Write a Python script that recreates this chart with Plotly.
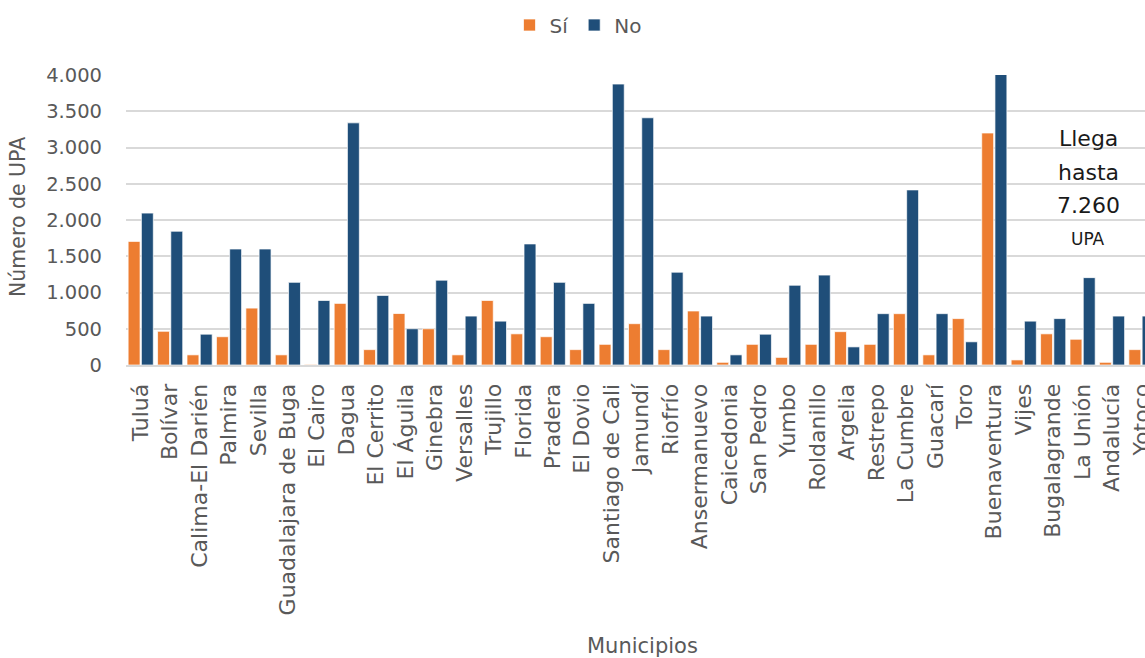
import plotly.graph_objects as go

municipios = [
    "Tuluá", "Bolívar", "Calima-El Darién", "Palmira", "Sevilla",
    "Guadalajara de Buga", "El Cairo", "Dagua", "El Cerrito", "El Águila",
    "Ginebra", "Versalles", "Trujillo", "Florida", "Pradera", "El Dovio",
    "Santiago de Cali", "Jamundí", "Riofrío", "Ansermanuevo", "Caicedonia",
    "San Pedro", "Yumbo", "Roldanillo", "Argelia", "Restrepo", "La Cumbre",
    "Guacarí", "Toro", "Buenaventura", "Vijes", "Bugalagrande", "La Unión",
    "Andalucía", "Yotoco",
]

upa_si = [
    1705, 465, 140, 390, 785, 140, 8, 850, 212, 710,
    500, 140, 890, 430, 390, 212, 285, 570, 212, 745,
    37, 285, 105, 285, 460, 285, 708, 140, 640, 3200,
    70, 430, 355, 37, 212,
]

upa_no = [
    2095, 1845, 425, 1600, 1600, 1140, 890, 3340, 960, 500,
    1170, 675, 605, 1670, 1140, 850, 3875, 3410, 1280, 675,
    140, 425, 1100, 1240, 250, 708, 2415, 708, 320, 7260,
    605, 640, 1205, 675, 675,
]

FONT = "DejaVu Sans"
GRAY = "#595959"
ORANGE = "#ED7D31"
BLUE = "#1F4E79"

W, H = 1145, 658
ML, MR, MT, MB = 126, 0, 75, 293
PW, PH = W - ML - MR, H - MT - MB


def px_x(x):
    return (x - ML) / PW


def px_y(y):
    return (H - MB - y) / PH


fig = go.Figure()
fig.add_trace(go.Bar(
    name="Sí", x=municipios, y=upa_si,
    marker=dict(color=ORANGE, line=dict(color="rgba(255,255,255,0.7)", width=1)),
))
fig.add_trace(go.Bar(
    name="No", x=municipios, y=upa_no,
    marker=dict(color=BLUE, line=dict(color="rgba(255,255,255,0.7)", width=1)),
))

# Buenaventura's "No" bar exceeds the axis; note its real value
tope = upa_no[municipios.index("Buenaventura")]
tope_txt = f"{tope:,}".replace(",", ".")
for texto, ypix, size in [("Llega", 138, 22), ("hasta", 172, 22), (tope_txt, 205, 22), ("UPA", 239, 17)]:
    fig.add_annotation(
        text=texto, x=px_x(1088), y=px_y(ypix), xref="paper", yref="paper",
        xanchor="center", yanchor="middle", showarrow=False,
        font=dict(family=FONT, size=size, color="#1a1a1a"),
    )

# axis titles
fig.add_annotation(
    text="Municipios", x=px_x(642), y=px_y(646), xref="paper", yref="paper",
    xanchor="center", yanchor="middle", showarrow=False,
    font=dict(family=FONT, size=21, color=GRAY),
)
fig.add_annotation(
    text="Número de UPA", x=px_x(18), y=px_y(217), xref="paper", yref="paper",
    xanchor="center", yanchor="middle", showarrow=False, textangle=-90,
    font=dict(family=FONT, size=20.5, color=GRAY),
)

fig.update_layout(
    width=W, height=H,
    margin=dict(l=ML, r=MR, t=MT, b=MB),
    paper_bgcolor="white", plot_bgcolor="white",
    separators=",.",
    barmode="group", bargap=0.1, bargroupgap=0.1,
    font=dict(family=FONT, color=GRAY),
    legend=dict(
        orientation="h", xref="container", yref="container",
        x=578 / W, y=1 - 25 / H, xanchor="center", yanchor="middle",
        font=dict(size=20, color=GRAY), traceorder="normal",
    ),
    xaxis=dict(
        range=[-0.5, 34.12], tickangle=-90, tickfont=dict(size=22, color=GRAY),
        showline=True, linecolor="#d9d9d9", linewidth=2, ticks="",
        ticklabelstandoff=8, automargin=False,
    ),
    yaxis=dict(
        range=[0, 4000], dtick=500, tickformat=",d",
        tickfont=dict(size=19.5, color=GRAY),
        gridcolor="#d9d9d9", gridwidth=1.5, zeroline=False,
        ticklabelstandoff=23, automargin=False,
    ),
)

fig.write_html("out.html")
